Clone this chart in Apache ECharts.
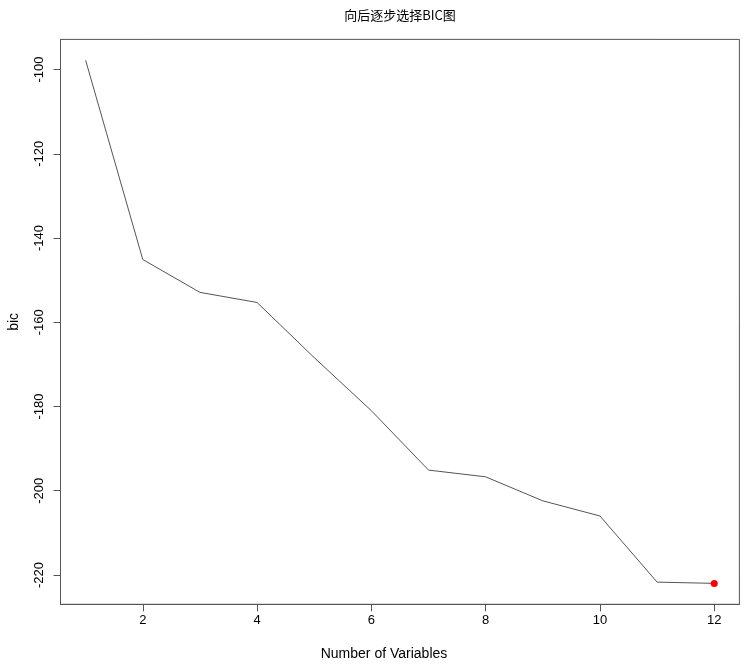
<!DOCTYPE html>
<html>
<head>
<meta charset="utf-8">
<script src="https://cdn.jsdelivr.net/npm/echarts@6/dist/echarts.min.js"></script>
<style>
  html, body { margin: 0; padding: 0; background: #fff; }
  #chart { width: 744px; height: 665px; }
</style>
</head>
<body>
<div id="chart"></div>
<script>
  // number of variables kept at each step of the backward search
  const numVars = [1, 2, 3, 4, 5, 6, 7, 8, 9, 10, 11, 12];
  // BIC per model size
  const bicValues = [-97.8, -145.1, -152.9, -155.3, -168.4, -181.0, -195.1, -196.7, -202.4, -206.0, -221.7, -222.0];
  const xTicks = [2, 4, 6, 8, 10, 12];
  const yTicks = [-220, -200, -180, -160, -140, -120, -100];
  // the chosen model (lowest bic)
  const bestIdx = 11;

  // R-style axis range: data range padded by 4% each side
  const pad = (lo, hi) => [lo - (hi - lo) * 0.04, hi + (hi - lo) * 0.04];
  const [xMin, xMax] = pad(Math.min(...numVars), Math.max(...numVars));
  const [yMin, yMax] = pad(Math.min(...bicValues), Math.max(...bicValues));

  const axisColor = '#555555';
  const chart = echarts.init(document.getElementById('chart'));

  chart.setOption({
    animation: false,
    backgroundColor: '#ffffff',
    title: {
      text: '向后逐步选择BIC图',
      left: 395,
      top: 4,
      textAlign: 'center',
      textStyle: {
        fontFamily: 'Noto Sans CJK SC',
        fontSize: 13,
        fontWeight: 'normal',
        color: '#000',
      },
    },
    grid: {
      left: 60.5,
      right: 4.6,
      top: 39.4,
      bottom: 60.7,
      show: true,
      borderColor: axisColor,
      borderWidth: 1,
      containLabel: false,
      outerBoundsMode: 'none',
    },
    xAxis: {
      type: 'value',
      min: xMin,
      max: xMax,
      splitLine: { show: false },
      axisLine: { show: true, onZero: false, lineStyle: { color: axisColor } },
      axisTick: {
        show: true,
        length: 7,
        customValues: xTicks,
        lineStyle: { color: axisColor },
      },
      axisLabel: {
        customValues: xTicks,
        margin: 10,
        color: '#000',
        fontFamily: 'Liberation Sans',
        fontSize: 13,
      },
    },
    yAxis: {
      type: 'value',
      min: yMin,
      max: yMax,
      name: 'bic',
      nameLocation: 'middle',
      nameRotate: 90,
      nameGap: 39,
      nameTextStyle: {
        color: '#000',
        fontFamily: 'Liberation Sans',
        fontSize: 14,
      },
      splitLine: { show: false },
      axisLine: { show: true, onZero: false, lineStyle: { color: axisColor } },
      axisTick: {
        show: true,
        length: 7,
        customValues: yTicks,
        lineStyle: { color: axisColor },
      },
      axisLabel: {
        customValues: yTicks,
        rotate: 90,
        margin: 15,
        color: '#000',
        fontFamily: 'Liberation Sans',
        fontSize: 13,
      },
    },
    graphic: [
      {
        type: 'text',
        x: 384,
        y: 647,
        style: {
          text: 'Number of Variables',
          align: 'center',
          fill: '#000',
          font: '14px "Liberation Sans"',
        },
      },
    ],
    series: [
      {
        name: 'bic',
        type: 'line',
        data: numVars.map((n, i) => [n, bicValues[i]]),
        showSymbol: false,
        lineStyle: { color: '#555555', width: 1 },
      },
      {
        name: 'best',
        type: 'scatter',
        data: [[numVars[bestIdx], bicValues[bestIdx]]],
        symbol: 'circle',
        symbolSize: 7,
        itemStyle: { color: '#ff0000', opacity: 1 },
        z: 3,
      },
    ],
  });
</script>
</body>
</html>
